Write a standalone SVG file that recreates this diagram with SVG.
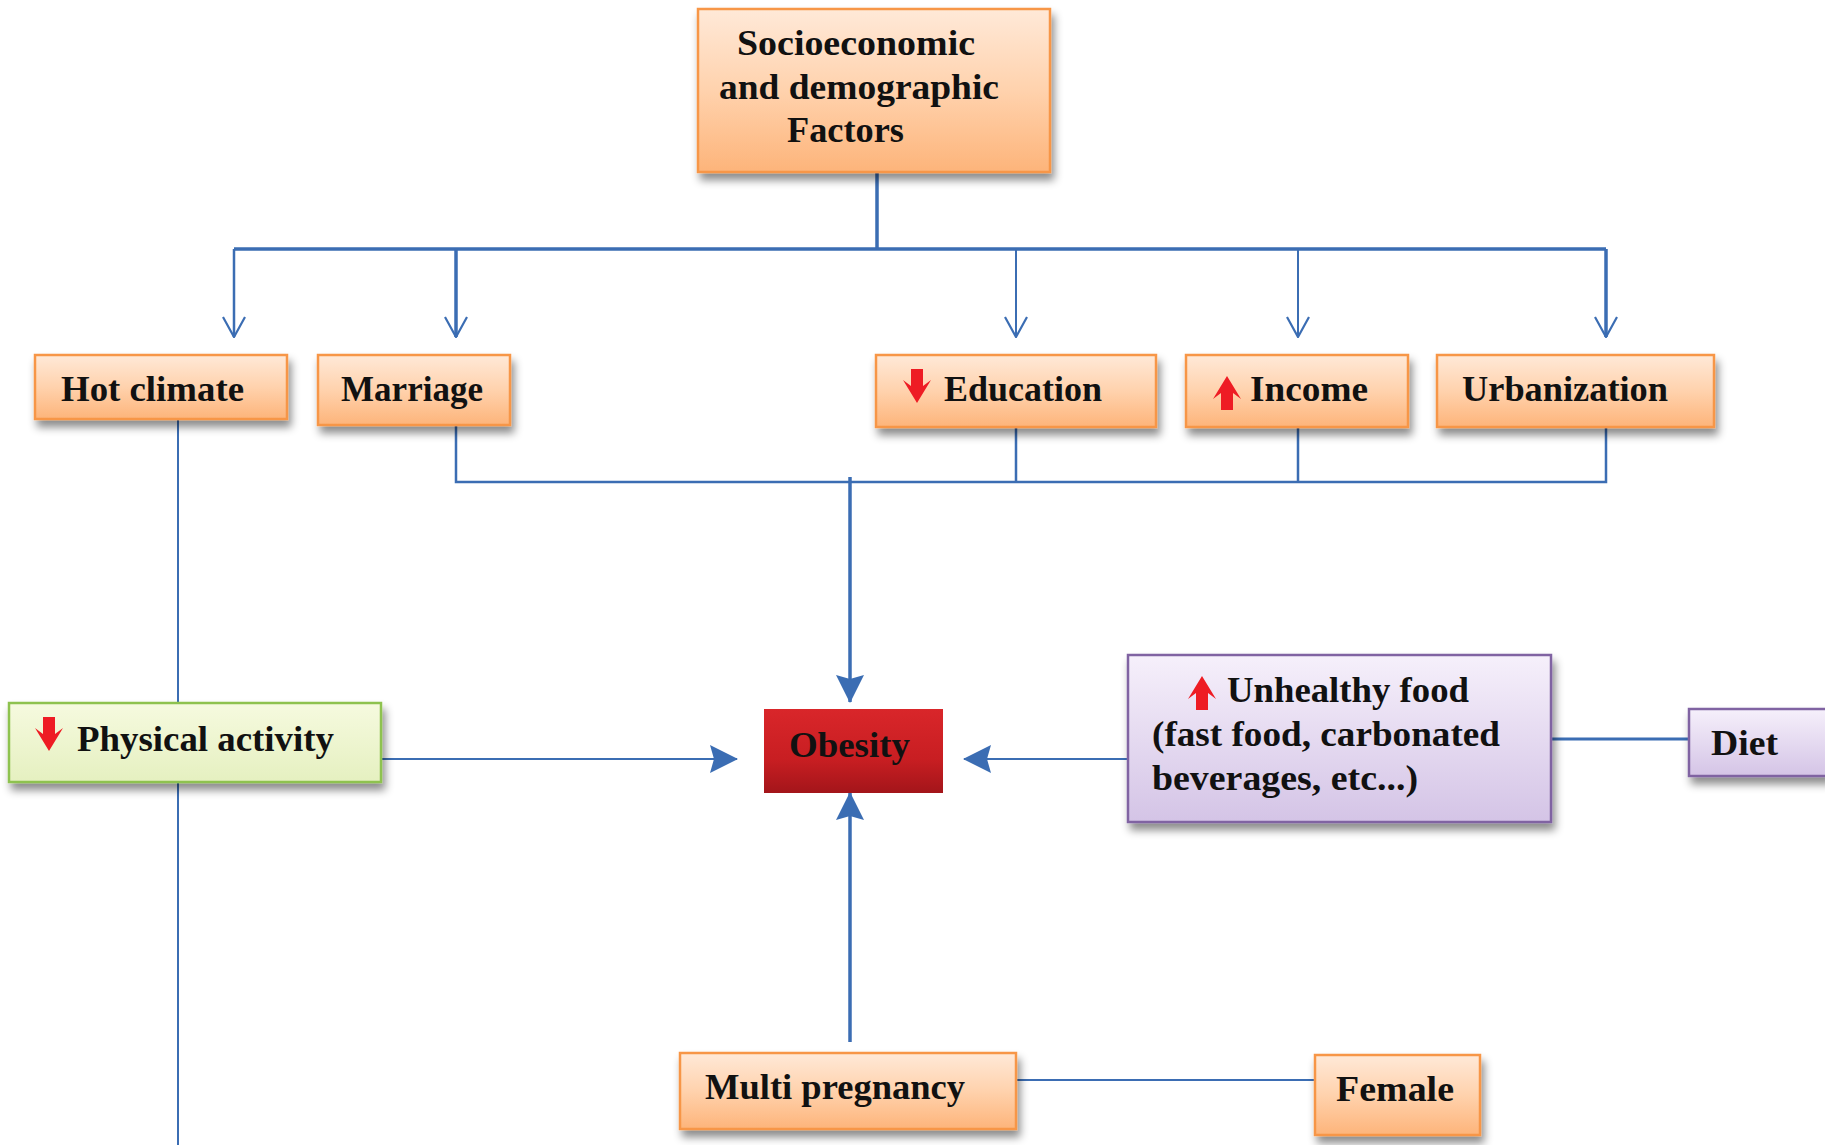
<svg xmlns="http://www.w3.org/2000/svg" width="1825" height="1145" viewBox="0 0 1825 1145">
<defs>
<linearGradient id="gOr" x1="0" y1="0" x2="0" y2="1"><stop offset="0" stop-color="#ffe9d8"/><stop offset="0.5" stop-color="#ffd2ad"/><stop offset="1" stop-color="#fdb47a"/></linearGradient>
<linearGradient id="gGr" x1="0" y1="0" x2="0" y2="1"><stop offset="0" stop-color="#f6fadf"/><stop offset="1" stop-color="#e5f0c0"/></linearGradient>
<linearGradient id="gPu" x1="0" y1="0" x2="0" y2="1"><stop offset="0" stop-color="#f6f0fb"/><stop offset="1" stop-color="#d4c4e6"/></linearGradient>
<linearGradient id="gRd" x1="0" y1="0" x2="0" y2="1"><stop offset="0" stop-color="#d9262a"/><stop offset="0.6" stop-color="#c81e22"/><stop offset="1" stop-color="#a3151a"/></linearGradient>
<filter id="sh" x="-10%" y="-10%" width="130%" height="140%"><feDropShadow dx="3" dy="7" stdDeviation="4" flood-color="#000" flood-opacity="0.45"/></filter>
<marker id="chev" viewBox="0 0 22 24" refX="21" refY="12" markerWidth="22" markerHeight="24" markerUnits="userSpaceOnUse" orient="auto">
<path d="M1,1 L21,12 L1,23" fill="none" stroke="#3b6db3" stroke-width="2.2"/>
</marker>
<marker id="tri" viewBox="0 0 28 28" refX="27" refY="14" markerWidth="28" markerHeight="28" markerUnits="userSpaceOnUse" orient="auto">
<path d="M0,0 L28,14 L0,28 L4,14 Z" fill="#3b6db3"/>
</marker>
<style>
.bx{stroke:#f79646;stroke-width:2.5;filter:url(#sh)}
.or{fill:url(#gOr)}
.t{font-family:"Liberation Serif","Times New Roman",serif;font-weight:bold;fill:#111;font-size:36px}
.ln{fill:none;stroke:#3b6db3}
.ra{fill:#ee1c24}
</style>
</defs>

<g id="connectors">
<path class="ln" stroke-width="3.5" d="M877,172 V249 M234,249 H1606"/>
<path class="ln" stroke-width="2.5" d="M234,249 V337" marker-end="url(#chev)"/>
<path class="ln" stroke-width="3.5" d="M456,249 V337" marker-end="url(#chev)"/>
<path class="ln" stroke-width="2" d="M1016,249 V337" marker-end="url(#chev)"/>
<path class="ln" stroke-width="2" d="M1298,249 V337" marker-end="url(#chev)"/>
<path class="ln" stroke-width="3.5" d="M1606,249 V337" marker-end="url(#chev)"/>
<path class="ln" stroke-width="2.5" d="M456,425 V482 H1606 V427 M1016,427 V482 M1298,427 V482"/>
<path class="ln" stroke-width="3.5" d="M850,477 V702" marker-end="url(#tri)"/>
<path class="ln" stroke-width="2" d="M178,419 V703 M178,782 V1145"/>
<path class="ln" stroke-width="2" d="M372,759 H737" marker-end="url(#tri)"/>
<path class="ln" stroke-width="2" d="M1128,759 H964" marker-end="url(#tri)"/>
<path class="ln" stroke-width="3" d="M1551,739 H1689"/>
<path class="ln" stroke-width="3.5" d="M850,1042 V793" marker-end="url(#tri)"/>
<path class="ln" stroke-width="2" d="M1016,1080 H1315"/>
</g>

<g id="n-socio">
<rect class="bx or" x="698" y="9" width="352" height="163"/>
<text class="t" x="737" y="55" textLength="238" lengthAdjust="spacingAndGlyphs">Socioeconomic</text>
<text class="t" x="719" y="99" textLength="280" lengthAdjust="spacingAndGlyphs">and demographic</text>
<text class="t" x="787" y="142" textLength="117" lengthAdjust="spacingAndGlyphs">Factors</text>
</g>

<g id="n-hot">
<rect class="bx or" x="35" y="355" width="252" height="64"/>
<text class="t" x="61" y="401" textLength="183" lengthAdjust="spacingAndGlyphs">Hot climate</text>
</g>

<g id="n-marriage">
<rect class="bx or" x="318" y="355" width="192" height="70"/>
<text class="t" x="341" y="401" textLength="142" lengthAdjust="spacingAndGlyphs">Marriage</text>
</g>

<g id="n-education">
<rect class="bx or" x="876" y="355" width="280" height="72"/>
<path class="ra" d="M911,369 H923 V386 L931,380 L917,403 L903,380 L911,386 Z"/>
<text class="t" x="944" y="401" textLength="158" lengthAdjust="spacingAndGlyphs">Education</text>
</g>

<g id="n-income">
<rect class="bx or" x="1186" y="355" width="222" height="72"/>
<path class="ra" d="M1221,410 H1233 V393 L1241,399 L1227,376 L1213,399 L1221,393 Z"/>
<text class="t" x="1250" y="401" textLength="118" lengthAdjust="spacingAndGlyphs">Income</text>
</g>

<g id="n-urban">
<rect class="bx or" x="1437" y="355" width="277" height="72"/>
<text class="t" x="1462" y="401" textLength="206" lengthAdjust="spacingAndGlyphs">Urbanization</text>
</g>

<g id="n-physical">
<rect x="9" y="703" width="372" height="79" fill="url(#gGr)" stroke="#8ec24f" stroke-width="2.5" filter="url(#sh)"/>
<path class="ra" d="M43,717 H55 V734 L63,728 L49,751 L35,728 L43,734 Z"/>
<text class="t" x="77" y="751" textLength="257" lengthAdjust="spacingAndGlyphs">Physical activity</text>
</g>

<g id="n-obesity">
<rect x="764" y="709" width="179" height="84" fill="url(#gRd)"/>
<text class="t" x="789" y="757" textLength="121" lengthAdjust="spacingAndGlyphs">Obesity</text>
</g>

<g id="n-food">
<rect x="1128" y="655" width="423" height="167" fill="url(#gPu)" stroke="#8064a2" stroke-width="2.5" filter="url(#sh)"/>
<path class="ra" d="M1196,710 H1208 V693 L1216,699 L1202,676 L1188,699 L1196,693 Z"/>
<text class="t" x="1227" y="702" textLength="242" lengthAdjust="spacingAndGlyphs">Unhealthy food</text>
<text class="t" x="1152" y="746" textLength="348" lengthAdjust="spacingAndGlyphs">(fast food, carbonated</text>
<text class="t" x="1152" y="790" textLength="266" lengthAdjust="spacingAndGlyphs">beverages, etc...)</text>
</g>

<g id="n-diet">
<rect x="1689" y="709" width="140" height="67" fill="url(#gPu)" stroke="#8064a2" stroke-width="2.5" filter="url(#sh)"/>
<text class="t" x="1711" y="755" textLength="67" lengthAdjust="spacingAndGlyphs">Diet</text>
</g>

<g id="n-multi">
<rect class="bx or" x="680" y="1053" width="336" height="76"/>
<text class="t" x="705" y="1099" textLength="260" lengthAdjust="spacingAndGlyphs">Multi pregnancy</text>
</g>

<g id="n-female">
<rect class="bx or" x="1315" y="1055" width="165" height="80"/>
<text class="t" x="1336" y="1101" textLength="118" lengthAdjust="spacingAndGlyphs">Female</text>
</g>
</svg>
